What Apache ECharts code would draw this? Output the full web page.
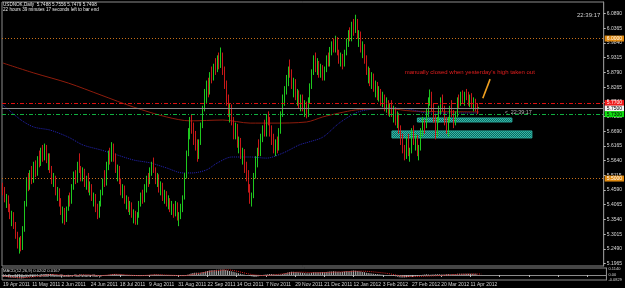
<!DOCTYPE html>
<html><head><meta charset="utf-8">
<script src="https://cdn.jsdelivr.net/npm/echarts@6/dist/echarts.min.js"></script>
<style>html,body{margin:0;padding:0;background:#000}#c{width:625px;height:288px}</style>
</head><body><div id="c"></div>
<script>
const titleLine = 'USDNOK,Daily  5.7488 5.7556 5.7479 5.7498';
const timerLine = '22 hours 39 minutes 17 seconds left to bar end';
const clockText = '22:39:17';
const macdTitle = 'MACD(12,26,9) 0.0202 0.0167';
const copyText = 'Hollis MT4, \u00a9 2001-2011 MetaQuotes Software Corp.';
const noteText = "manually closed when yesterday's high taken out";
const slotCount = 331;
const dateTicks = ['19 Apr 2011','11 May 2011','2 Jun 2011','24 Jun 2011','18 Jul 2011','9 Aug 2011','31 Aug 2011','22 Sep 2011','14 Oct 2011','7 Nov 2011','29 Nov 2011','21 Dec 2011','12 Jan 2012','3 Feb 2012','27 Feb 2012','20 Mar 2012','11 Apr 2012'];
const priceTicks = [6.0890,6.0365,5.9840,5.9315,5.8790,5.8265,5.7740,5.7215,5.6690,5.6165,5.5640,5.5115,5.4590,5.4065,5.3540,5.3015,5.2490,5.1965];
const priceMin = 5.1877, priceMax = 6.1305;
// [open, high, low, close]
const ohlc = [
[5.470,5.485,5.440,5.452],[5.452,5.470,5.415,5.425],[5.425,5.445,5.395,5.430],[5.430,5.440,5.380,5.390],
[5.390,5.410,5.355,5.365],[5.365,5.385,5.330,5.370],[5.370,5.380,5.320,5.330],[5.330,5.345,5.285,5.295],
[5.295,5.310,5.250,5.262],[5.262,5.290,5.232,5.280],[5.280,5.295,5.240,5.250],[5.250,5.330,5.245,5.320],
[5.320,5.420,5.310,5.410],[5.410,5.505,5.400,5.490],[5.490,5.520,5.455,5.470],[5.470,5.530,5.460,5.515],
[5.515,5.545,5.480,5.495],[5.495,5.560,5.485,5.545],[5.545,5.565,5.505,5.520],[5.520,5.580,5.510,5.570],
[5.570,5.600,5.540,5.555],[5.555,5.610,5.545,5.598],[5.598,5.620,5.560,5.575],[5.575,5.625,5.565,5.610],
[5.610,5.620,5.555,5.565],[5.565,5.590,5.530,5.580],[5.580,5.590,5.520,5.530],[5.530,5.545,5.480,5.490],
[5.490,5.520,5.470,5.505],[5.505,5.510,5.440,5.450],[5.450,5.470,5.420,5.460],[5.460,5.465,5.400,5.410],
[5.410,5.430,5.370,5.380],[5.380,5.400,5.340,5.390],[5.390,5.395,5.335,5.350],[5.350,5.400,5.345,5.395],
[5.395,5.440,5.385,5.430],[5.430,5.450,5.400,5.415],[5.415,5.480,5.410,5.470],[5.470,5.525,5.460,5.515],
[5.515,5.530,5.480,5.490],[5.490,5.560,5.485,5.550],[5.550,5.590,5.520,5.530],[5.530,5.545,5.490,5.500],
[5.500,5.540,5.490,5.525],[5.525,5.535,5.470,5.480],[5.480,5.510,5.460,5.500],[5.500,5.520,5.450,5.460],
[5.460,5.490,5.440,5.475],[5.475,5.480,5.420,5.430],[5.430,5.450,5.400,5.440],[5.440,5.445,5.380,5.390],
[5.390,5.410,5.355,5.370],[5.370,5.420,5.360,5.410],[5.410,5.460,5.400,5.450],[5.450,5.500,5.440,5.490],
[5.490,5.530,5.470,5.480],[5.480,5.560,5.475,5.550],[5.550,5.600,5.530,5.585],[5.585,5.610,5.550,5.565],
[5.565,5.630,5.560,5.615],[5.615,5.625,5.560,5.570],[5.570,5.590,5.520,5.530],[5.530,5.550,5.490,5.540],
[5.540,5.545,5.480,5.490],[5.490,5.500,5.440,5.450],[5.450,5.480,5.430,5.470],[5.470,5.475,5.410,5.420],
[5.420,5.440,5.390,5.430],[5.430,5.435,5.380,5.395],[5.395,5.420,5.370,5.410],[5.410,5.415,5.360,5.370],
[5.370,5.390,5.340,5.380],[5.380,5.385,5.335,5.345],[5.345,5.380,5.335,5.370],[5.370,5.420,5.360,5.410],
[5.410,5.450,5.400,5.440],[5.440,5.460,5.410,5.420],[5.420,5.480,5.415,5.470],[5.470,5.510,5.450,5.500],
[5.500,5.520,5.470,5.485],[5.485,5.540,5.480,5.530],[5.530,5.560,5.510,5.545],[5.545,5.575,5.520,5.530],
[5.530,5.540,5.480,5.490],[5.490,5.520,5.470,5.510],[5.510,5.515,5.450,5.460],[5.460,5.490,5.440,5.480],
[5.480,5.485,5.420,5.430],[5.430,5.460,5.410,5.450],[5.450,5.455,5.400,5.410],[5.410,5.440,5.390,5.425],
[5.425,5.430,5.380,5.390],[5.390,5.420,5.370,5.405],[5.405,5.410,5.360,5.375],[5.375,5.420,5.365,5.410],
[5.410,5.415,5.350,5.360],[5.360,5.380,5.330,5.370],[5.370,5.410,5.355,5.395],[5.395,5.440,5.380,5.430],
[5.430,5.520,5.425,5.510],[5.510,5.600,5.500,5.590],[5.590,5.680,5.580,5.665],[5.665,5.720,5.640,5.700],
[5.700,5.730,5.660,5.680],[5.680,5.700,5.620,5.640],[5.640,5.670,5.600,5.610],[5.610,5.640,5.560,5.580],
[5.580,5.640,5.570,5.630],[5.630,5.700,5.620,5.690],[5.690,5.760,5.680,5.750],[5.750,5.820,5.740,5.800],
[5.800,5.850,5.770,5.840],[5.840,5.860,5.790,5.810],[5.810,5.880,5.800,5.870],[5.870,5.900,5.840,5.860],
[5.860,5.910,5.850,5.900],[5.900,5.930,5.870,5.890],[5.890,5.940,5.880,5.920],[5.920,5.950,5.890,5.905],
[5.905,5.968,5.895,5.940],[5.940,5.950,5.870,5.880],[5.880,5.900,5.820,5.830],[5.830,5.850,5.760,5.780],
[5.780,5.800,5.720,5.740],[5.740,5.770,5.700,5.760],[5.760,5.765,5.690,5.700],[5.700,5.720,5.640,5.660],
[5.660,5.700,5.640,5.690],[5.690,5.695,5.610,5.620],[5.620,5.650,5.590,5.640],[5.640,5.645,5.570,5.580],
[5.580,5.610,5.550,5.600],[5.600,5.605,5.520,5.530],[5.530,5.560,5.490,5.500],[5.500,5.530,5.450,5.460],
[5.460,5.480,5.410,5.430],[5.430,5.450,5.400,5.440],[5.440,5.520,5.430,5.510],[5.510,5.580,5.500,5.570],
[5.570,5.610,5.540,5.600],[5.600,5.640,5.580,5.590],[5.590,5.660,5.580,5.650],[5.650,5.690,5.630,5.680],
[5.680,5.710,5.650,5.660],[5.660,5.730,5.650,5.720],[5.720,5.740,5.690,5.700],[5.700,5.720,5.650,5.670],
[5.670,5.690,5.620,5.640],[5.640,5.660,5.590,5.600],[5.600,5.640,5.580,5.630],[5.630,5.650,5.590,5.610],
[5.610,5.680,5.600,5.670],[5.670,5.740,5.660,5.730],[5.730,5.800,5.720,5.790],[5.790,5.830,5.760,5.820],
[5.820,5.870,5.800,5.860],[5.860,5.900,5.830,5.890],[5.890,5.925,5.860,5.880],[5.880,5.890,5.820,5.830],
[5.830,5.860,5.790,5.850],[5.850,5.855,5.780,5.790],[5.790,5.820,5.760,5.810],[5.810,5.815,5.750,5.760],
[5.760,5.800,5.740,5.790],[5.790,5.800,5.740,5.750],[5.750,5.780,5.720,5.770],[5.770,5.775,5.715,5.730],
[5.730,5.790,5.720,5.780],[5.780,5.840,5.770,5.830],[5.830,5.890,5.820,5.880],[5.880,5.940,5.870,5.925],
[5.925,5.950,5.880,5.900],[5.900,5.930,5.870,5.910],[5.910,5.920,5.860,5.870],[5.870,5.910,5.860,5.900],
[5.900,5.905,5.850,5.860],[5.860,5.900,5.850,5.890],[5.890,5.940,5.880,5.930],[5.930,5.950,5.900,5.910],
[5.910,5.970,5.900,5.960],[5.960,5.990,5.940,5.980],[5.980,6.000,5.950,5.960],[5.960,6.010,5.950,5.995],
[5.995,6.005,5.940,5.950],[5.950,5.960,5.910,5.920],[5.920,5.950,5.900,5.940],[5.940,5.945,5.890,5.910],
[5.910,5.960,5.900,5.950],[5.950,6.000,5.940,5.990],[5.990,6.030,5.970,6.020],[6.020,6.040,5.990,6.000],
[6.000,6.060,5.990,6.050],[6.050,6.070,6.010,6.030],[6.030,6.085,6.020,6.060],[6.060,6.070,6.000,6.010],
[6.010,6.030,5.970,6.020],[6.020,6.025,5.950,5.960],[5.960,5.990,5.930,5.975],[5.975,5.980,5.910,5.920],
[5.920,5.940,5.870,5.880],[5.880,5.900,5.840,5.890],[5.890,5.895,5.830,5.840],[5.840,5.880,5.820,5.870],
[5.870,5.875,5.810,5.820],[5.820,5.850,5.790,5.840],[5.840,5.845,5.780,5.790],[5.790,5.830,5.775,5.815],
[5.815,5.820,5.760,5.770],[5.770,5.810,5.755,5.795],[5.795,5.800,5.740,5.750],[5.750,5.790,5.735,5.775],
[5.775,5.780,5.725,5.740],[5.740,5.770,5.720,5.760],[5.760,5.780,5.720,5.730],[5.730,5.760,5.700,5.750],
[5.750,5.755,5.690,5.700],[5.700,5.740,5.680,5.730],[5.730,5.735,5.660,5.670],[5.670,5.690,5.620,5.640],
[5.640,5.660,5.590,5.600],[5.600,5.620,5.565,5.580],[5.580,5.650,5.570,5.640],[5.640,5.660,5.580,5.590],
[5.590,5.610,5.560,5.600],[5.600,5.680,5.590,5.670],[5.670,5.690,5.620,5.630],[5.630,5.660,5.600,5.650],
[5.650,5.655,5.580,5.590],[5.590,5.620,5.565,5.610],[5.610,5.680,5.600,5.670],[5.670,5.720,5.650,5.700],
[5.700,5.710,5.660,5.690],[5.690,5.750,5.680,5.740],[5.740,5.790,5.720,5.780],[5.780,5.818,5.760,5.800],
[5.800,5.810,5.740,5.750],[5.750,5.770,5.700,5.720],[5.720,5.730,5.640,5.660],[5.660,5.720,5.650,5.710],
[5.710,5.760,5.700,5.750],[5.750,5.790,5.730,5.770],[5.770,5.800,5.740,5.750],[5.750,5.760,5.690,5.700],
[5.700,5.720,5.660,5.680],[5.680,5.720,5.650,5.710],[5.710,5.760,5.700,5.750],[5.750,5.780,5.720,5.730],
[5.730,5.745,5.680,5.700],[5.700,5.740,5.690,5.730],[5.730,5.790,5.720,5.780],[5.780,5.800,5.750,5.770],
[5.770,5.810,5.760,5.800],[5.800,5.815,5.770,5.780],[5.780,5.810,5.760,5.800],[5.800,5.820,5.780,5.790],
[5.790,5.810,5.760,5.770],[5.770,5.800,5.755,5.790],[5.790,5.805,5.750,5.760],[5.760,5.790,5.740,5.780],
[5.780,5.785,5.740,5.750],[5.750,5.770,5.730,5.7488],[5.7488,5.7556,5.7479,5.7498]
];
// moving averages, [bar index, price]
const maRed = [[0,5.9126],[17,5.877],[36,5.841],[54,5.798],[72,5.755],[90,5.720],[103,5.706],[121,5.709],[136,5.698],[148,5.698],[167,5.702],[176,5.720],[185,5.734],[194,5.745],[203,5.748],[212,5.750],[225,5.741],[262,5.738]];
const maBlue = [[0,5.763],[10,5.709],[17,5.684],[26,5.673],[36,5.648],[44,5.620],[54,5.602],[63,5.584],[72,5.566],[81,5.556],[90,5.538],[99,5.520],[104,5.520],[112,5.531],[118,5.556],[126,5.577],[136,5.577],[145,5.573],[154,5.591],[163,5.620],[168,5.630],[176,5.648],[185,5.698],[194,5.734],[200,5.745],[212,5.752],[223,5.748],[234,5.734],[262,5.734]];
// horizontal levels
const levelOrange = [6.0000, 5.5000];
const levelRed = 5.7735;
const levelBid = 5.7498;
const levelGreen = 5.7305;
// zones [fromBar, toBar, top, bottom]
const zones = [[228,280,5.7162,5.7020],[214,291,5.6700,5.6450]];
const notePoint = [221, 5.880];
const arrowLine = [[264,5.787],[268,5.855]];
const timerPoint = [276, 5.737];
// MACD main (per bar) and signal (sparse)
const macd = [
-0.030,-0.033,-0.036,-0.040,-0.044,-0.047,-0.050,-0.054,-0.058,-0.060,-0.062,
-0.058,-0.050,-0.040,-0.033,-0.025,-0.019,-0.012,-0.007,0.000,0.004,0.010,0.013,0.017,0.018,0.019,
0.017,0.013,0.009,0.004,0.000,-0.005,-0.011,-0.016,-0.020,-0.022,
-0.021,-0.019,-0.014,-0.008,-0.005,0.000,0.004,0.005,0.007,
0.006,0.005,0.002,0.000,-0.002,-0.005,-0.009,-0.013,-0.014,
-0.012,-0.008,-0.005,0.000,0.006,0.010,0.015,0.017,0.016,
0.015,0.012,0.008,0.005,0.001,-0.002,-0.005,-0.007,-0.010,-0.013,-0.015,-0.018,-0.018,
-0.016,-0.014,-0.010,-0.005,-0.002,0.002,0.006,0.009,0.010,
0.008,0.006,0.003,0.001,-0.002,-0.004,-0.007,-0.009,-0.011,-0.012,-0.014,-0.014,-0.016,-0.016,-0.014,
-0.008,0.002,0.015,0.028,0.036,0.040,0.041,0.040,0.042,0.047,0.055,0.064,0.073,0.078,
0.083,0.086,0.090,0.092,0.095,0.096,0.099,
0.097,0.091,0.082,0.072,0.065,0.057,0.047,0.040,0.030,0.023,0.015,0.007,0.001,-0.007,-0.015,-0.024,-0.031,-0.035,
-0.030,-0.022,-0.013,-0.006,0.002,0.009,0.012,0.016,0.016,0.014,0.010,0.008,0.007,0.010,
0.017,0.026,0.035,0.044,0.052,0.058,0.058,0.055,0.053,0.048,0.045,0.040,0.036,0.032,0.030,
0.033,0.040,0.047,0.050,0.051,0.050,0.050,0.048,0.049,0.053,0.057,0.061,0.062,0.065,0.063,
0.059,0.057,0.055,0.057,0.062,0.067,0.069,0.073,0.074,0.078,0.074,0.071,0.065,0.061,0.055,
0.047,0.042,0.036,0.033,0.027,0.024,0.018,0.016,0.011,0.008,0.003,0.001,-0.003,-0.004,-0.008,
-0.010,-0.016,-0.024,-0.032,-0.040,-0.043,-0.046,-0.045,-0.042,-0.037,-0.034,-0.030,-0.029,-0.024,
-0.017,-0.011,-0.004,0.003,0.010,0.012,0.010,0.006,0.007,0.010,0.014,0.015,0.014,0.010,0.007,
0.008,0.011,0.012,0.010,0.011,0.015,0.017,0.020,0.021,0.023,0.024,0.024,0.024,0.022,0.022,0.021,0.020,0.020
];
const macdSignal = [[0,-0.020],[10,-0.048],[20,-0.022],[28,0.010],[36,-0.015],[45,0.003],[54,-0.010],[62,0.012],[75,-0.012],[84,0.005],[99,-0.012],[105,0.015],[115,0.070],[123,0.090],[136,0.010],[143,-0.010],[152,0.015],[162,0.050],[172,0.040],[185,0.055],[196,0.068],[210,0.030],[222,-0.030],[236,-0.015],[250,0.012],[262,0.0167]];
const macdTicks = [0.1140, 0, -0.0829];

const cats = [];
for (let i = 0; i < slotCount; i++) cats.push(String(i));
const candleData = ohlc.map(r => [r[0], r[3], r[2], r[1]]);

function hatch() {
  const c = document.createElement('canvas');
  c.width = 2; c.height = 2;
  const g = c.getContext('2d');
  g.fillStyle = '#0c665e'; g.fillRect(0,0,2,2);
  g.fillStyle = '#36b8a8'; g.fillRect(0,0,1,1); g.fillRect(1,1,1,1);
  return c;
}
const F = 'Liberation Sans';
const chart = echarts.init(document.getElementById('c'), null, {renderer:'canvas'});
const lvlLabel = (bg, fg) => ({show:true, position:'end', distance:1, formatter: p => p.value.toFixed(4), backgroundColor:bg, color:fg, fontSize:5, fontFamily:F, padding:[1,2,0,2]});
chart.setOption({
  backgroundColor:'#000000',
  animation:false,
  grid:[
    {left:2, right:18, top:2, bottom:22, show:true, borderColor:'#8c8c8c', borderWidth:1, backgroundColor:'transparent'},
    {left:2, right:18, top:268, height:12, show:true, borderColor:'#8c8c8c', borderWidth:1}
  ],
  xAxis:[
    {type:'category', gridIndex:0, data:cats, boundaryGap:true, axisLine:{show:false}, axisTick:{show:false}, axisLabel:{show:false}},
    {type:'category', gridIndex:1, data:cats, boundaryGap:true, axisLine:{show:true, lineStyle:{color:'#8c8c8c'}},
     axisTick:{show:true, interval:15, length:2, alignWithLabel:true, lineStyle:{color:'#bbbbbb'}},
     axisLabel:{interval:15, align:'left', margin:2, fontSize:5, fontFamily:F, color:'#d0d0d0', formatter:(v)=>{const k=Number(v)/16; return dateTicks[k]||'';}}}
  ],
  yAxis:[
    {type:'value', gridIndex:0, position:'right', min:priceMin, max:priceMax, splitLine:{show:false},
     axisLine:{show:true, lineStyle:{color:'#8c8c8c'}},
     axisTick:{show:true, length:2, customValues:priceTicks, lineStyle:{color:'#bbbbbb'}},
     axisLabel:{customValues:priceTicks, formatter:v=>v.toFixed(4), color:'#d8d8d8', fontSize:5, fontFamily:F, margin:3}},
    {type:'value', gridIndex:1, position:'right', min:-0.09, max:0.125, splitLine:{show:false},
     axisLine:{show:true, lineStyle:{color:'#8c8c8c'}}, axisTick:{show:false},
     axisLabel:{customValues:macdTicks, formatter:v=> v===0 ? '0.00' : v.toFixed(4), color:'#d8d8d8', fontSize:4, fontFamily:F, margin:2}}
  ],
  series:[
    {type:'line', xAxisIndex:0, yAxisIndex:0, data:maRed, showSymbol:false, smooth:0.3, lineStyle:{color:'#8e1c0c', width:1}, z:1},
    {type:'line', xAxisIndex:0, yAxisIndex:0, data:maBlue, showSymbol:false, smooth:0.3, lineStyle:{color:'#2424b8', width:1, type:[1,1]}, z:1},
    {type:'candlestick', xAxisIndex:0, yAxisIndex:0, data:candleData, barWidth:1, z:3,
     itemStyle:{color:'#0a8a0a', borderColor:'#1ec81e', color0:'#f0a8a8', borderColor0:'#c81818', borderWidth:1},
     markArea:{silent:true, itemStyle:{color:{image:hatch(), repeat:'repeat'}, borderColor:'#28a89a', borderWidth:1},
       data: zones.map(z => [{coord:[String(z[0]), z[2]]},{coord:[String(z[1]), z[3]]}])},
     markLine:{silent:true, symbol:'none', animation:false, data:[
       {yAxis:levelOrange[0], lineStyle:{color:'#c8701a', width:1, type:[1,2]}, label:lvlLabel('#e08a10','#ffffff')},
       {yAxis:levelOrange[1], lineStyle:{color:'#c8701a', width:1, type:[1,2]}, label:lvlLabel('#e08a10','#ffffff')},
       {yAxis:levelRed, lineStyle:{color:'#e01010', width:1, type:[4,2,1,2]}, label:lvlLabel('#ee1c1c','#ffffff')},
       {yAxis:levelBid, lineStyle:{color:'#8a8a8a', width:1, type:'solid'}, label:lvlLabel('#f4f4f4','#000000')},
       {yAxis:levelGreen, lineStyle:{color:'#10b040', width:1, type:[4,2,1,2]}, label:lvlLabel('#10e010','#000000')},
       [{coord:[String(arrowLine[0][0]), arrowLine[0][1]], lineStyle:{color:'#f0a020', width:1.6, type:'solid'}, label:{show:false}},
        {coord:[String(arrowLine[1][0]), arrowLine[1][1]]}]
     ]},
     markPoint:{silent:true, symbol:'rect', symbolSize:0, data:[
       {coord:[String(notePoint[0]), notePoint[1]], label:{show:true, position:'right', distance:0, formatter:noteText, color:'#e41e1e', fontSize:6, fontFamily:F}},
       {coord:[String(timerPoint[0]), timerPoint[1]], label:{show:true, position:'right', distance:0, formatter:'<  '+clockText, color:'#b8b8b8', fontSize:5.4, fontFamily:F}}
     ]}
    },
    {type:'bar', xAxisIndex:1, yAxisIndex:1, data:macd, barWidth:1, itemStyle:{color:'#b4b4b4'}},
    {type:'line', xAxisIndex:1, yAxisIndex:1, data:macdSignal, showSymbol:false, smooth:0.3, lineStyle:{color:'#d02020', width:1, type:[1,1]}}
  ],
  graphic:[
    {type:'text', left:3, top:2, style:{text:titleLine, fill:'#e8e8e8', font:'4.6px "Liberation Sans"'}},
    {type:'text', left:3, top:7, style:{text:timerLine, fill:'#e8e8e8', font:'4.6px "Liberation Sans"'}},
    {type:'text', left:577, top:12, style:{text:clockText, fill:'#d0d0d0', font:'6px "Liberation Sans"'}},
    {type:'text', left:3, top:269, style:{text:macdTitle, fill:'#d8d8d8', font:'4.2px "Liberation Sans"'}},
    {type:'text', left:3, top:274, style:{text:copyText, fill:'#d8d8d8', font:'4.2px "Liberation Sans"'}}
  ]
});
</script>
</body></html>
